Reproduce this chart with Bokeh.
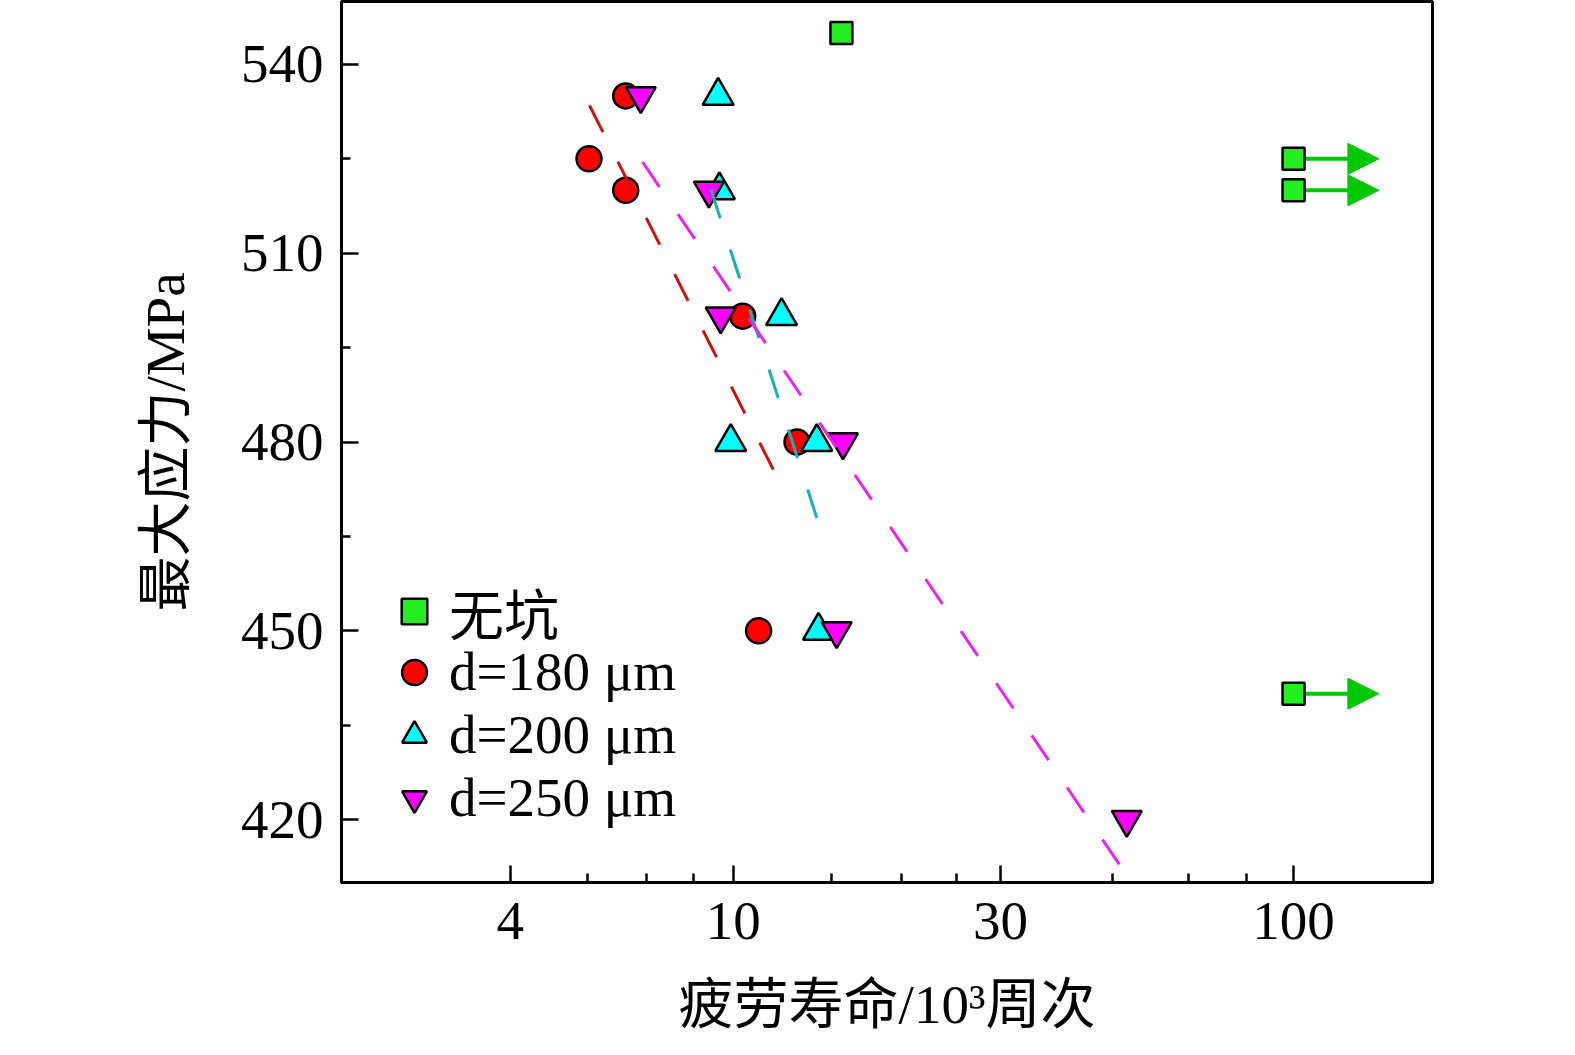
from bokeh.plotting import figure
from bokeh.models import (FixedTicker, Legend, LegendItem, Arrow, NormalHead,
                          Range1d, BasicTickFormatter)
from bokeh.embed import file_html
from bokeh.resources import INLINE

# ---------------- data ----------------
nopit_life = [15.6, 100, 100, 100]
nopit_stress = [545, 525, 520, 440]
runout_start = [100, 100, 100]
runout_end = [142, 142, 142]
runout_stress = [525, 520, 440]

d180_life = [6.43, 5.53, 6.43, 10.4, 13.0, 11.1]
d180_stress = [535, 525, 520, 500, 480, 450]
d200_life = [9.4, 9.45, 12.2, 9.9, 14.1, 14.2]
d200_stress = [535, 520, 500, 480, 480, 450]
d250_life = [6.84, 9.05, 9.5, 15.7, 15.3, 50.4]
d250_stress = [535, 520, 500, 480, 450, 420]

fit180_life = [5.54, 12.2]
fit180_stress = [533.5, 473.0]
fit200_life = [9.13, 14.2]
fit200_stress = [520.1, 467.1]
fit250_life = [6.89, 51.4]
fit250_stress = [524.5, 410.0]

x_ticks = [4, 10, 30, 100]
x_minor = [5.5, 7, 8.5, 15, 20, 25, 47.5, 65, 82.5]
y_ticks = [420, 450, 480, 510, 540]
y_minor = [435, 465, 495, 525]

labels = ["无坑", "d=180 μm", "d=200 μm", "d=250 μm"]

FONT = "Liberation Serif, Noto Sans CJK SC"
FS = "55px"

W, H = 1559, 1039
p = figure(width=W, height=H, x_axis_type="log",
           x_range=Range1d(2, 177), y_range=Range1d(410, 550),
           output_backend="svg", toolbar_location=None,
           min_border_left=341, min_border_right=W - 1432,
           min_border_top=1, min_border_bottom=H - 882)

p.grid.visible = False
p.outline_line_color = "black"
p.outline_line_width = 3
p.background_fill_color = "white"
p.border_fill_color = "white"

for ax in (p.xaxis[0], p.yaxis[0]):
    ax.axis_line_width = 3
    ax.major_tick_line_width = 2.5
    ax.minor_tick_line_width = 2.5
    ax.major_tick_in = 17
    ax.major_tick_out = 0
    ax.minor_tick_in = 9
    ax.minor_tick_out = 0
    ax.major_label_text_font = FONT
    ax.major_label_text_font_size = FS
    ax.major_label_text_color = "black"
    ax.axis_label_text_font = FONT
    ax.axis_label_text_font_size = FS
    ax.axis_label_text_font_style = "normal"
    ax.axis_label_text_color = "black"

p.xaxis.ticker = FixedTicker(ticks=x_ticks, minor_ticks=x_minor)
p.xaxis.formatter = BasicTickFormatter()
p.yaxis.ticker = FixedTicker(ticks=y_ticks, minor_ticks=y_minor)
p.xaxis.major_label_standoff = 20
p.yaxis.major_label_standoff = 18
p.xaxis.axis_label = "疲劳寿命/10³周次"
p.yaxis.axis_label = "最大应力/MPa"
p.xaxis.axis_label_standoff = 32
p.yaxis.axis_label_standoff = 42

# run-out arrows (drawn beneath the squares)
green_arrow = "#00C800"
for xs, xe, ys in zip(runout_start, runout_end, runout_stress):
    arr = Arrow(x_start=xs, y_start=ys, x_end=xe, y_end=ys,
                line_color=green_arrow, line_width=4, level="underlay",
                end=NormalHead(size=31, fill_color=green_arrow,
                               line_color=green_arrow, line_width=1))
    p.add_layout(arr)

r0 = p.scatter(nopit_life, nopit_stress, marker="square", size=22,
               fill_color="#22EE22", line_color="black", line_width=2.5)
r1 = p.scatter(d180_life, d180_stress, marker="circle", size=25,
               fill_color="#FF0000", line_color="black", line_width=2.5)
r2 = p.scatter(d200_life, d200_stress, marker="triangle", size=31,
               fill_color="#00FFFF", line_color="black", line_width=2.5)
r3 = p.scatter(d250_life, d250_stress, marker="inverted_triangle", size=30,
               fill_color="#FF00FF", line_color="black", line_width=2.5)

p.line(fit180_life, fit180_stress, line_color="#D01010", line_width=3,
       line_dash="30 33")
p.line(fit200_life, fit200_stress, line_color="#1AAFB0", line_width=3,
       line_dash="30 33")
p.line(fit250_life, fit250_stress, line_color="#EE22EE", line_width=3,
       line_dash="30 33")

common = dict(padding=0, margin=0, glyph_width=64, label_standoff=3,
              border_line_color=None, background_fill_alpha=0,
              label_text_font=FONT, label_text_font_size=FS,
              label_text_color="black", spacing=0)

legend_a = Legend(items=[LegendItem(label=labels[0], renderers=[r0])],
                  location=(41, 231),
                  glyph_height=76, label_height=76, **common)
legend_b = Legend(items=[LegendItem(label=labels[1], renderers=[r1]),
                         LegendItem(label=labels[2], renderers=[r2]),
                         LegendItem(label=labels[3], renderers=[r3])],
                  location=(41, 53),
                  glyph_height=62, label_height=62, **common)
p.add_layout(legend_a)
p.add_layout(legend_b)

open("out.html", "w").write(file_html(p, INLINE))
